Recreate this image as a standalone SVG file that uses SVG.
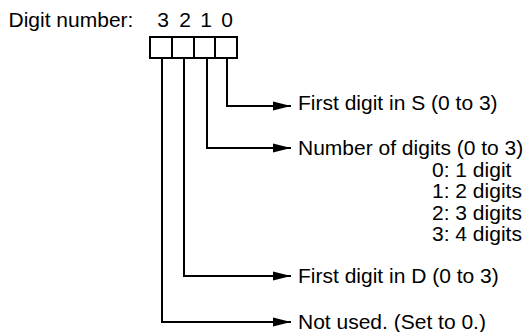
<svg xmlns="http://www.w3.org/2000/svg" width="524" height="332" viewBox="0 0 524 332">
<style>
text{font-family:"Liberation Sans",Arial,sans-serif;font-size:21px;fill:#000}
.ln{fill:none;stroke:#000;stroke-width:2}
</style>
<defs>
<marker id="ah" markerWidth="18" markerHeight="10" refX="18" refY="5" orient="auto" markerUnits="userSpaceOnUse">
<path d="M0,0.5 L18,5 L0,9.5 Z" fill="#000"/>
</marker>
</defs>
<rect width="524" height="332" fill="#fff"/>
<g id="header">
<text x="8.5" y="27">Digit number:</text>
<text x="163" y="27" text-anchor="middle">3</text>
<text x="185" y="27" text-anchor="middle">2</text>
<text x="206" y="27" text-anchor="middle">1</text>
<text x="227" y="27" text-anchor="middle">0</text>
</g>
<g id="register">
<rect class="ln" x="150" y="37" width="87" height="21"/>
<line class="ln" x1="172" y1="37" x2="172" y2="58"/>
<line class="ln" x1="194" y1="37" x2="194" y2="58"/>
<line class="ln" x1="215" y1="37" x2="215" y2="58"/>
</g>
<g id="connectors">
<polyline class="ln" points="227,58 227,106 291,106" marker-end="url(#ah)"/>
<polyline class="ln" points="207,58 207,148 291,148" marker-end="url(#ah)"/>
<polyline class="ln" points="184,58 184,276 291,276" marker-end="url(#ah)"/>
<polyline class="ln" points="162,58 162,322 291,322" marker-end="url(#ah)"/>
</g>
<g id="digit0">
<text x="298" y="110">First digit in S (0 to 3)</text>
</g>
<g id="digit1">
<text x="298" y="155">Number of digits (0 to 3)</text>
<text x="432" y="176.5">0: 1 digit</text>
<text x="432" y="198">1: 2 digits</text>
<text x="432" y="219.5">2: 3 digits</text>
<text x="432" y="241">3: 4 digits</text>
</g>
<g id="digit2">
<text x="298" y="283">First digit in D (0 to 3)</text>
</g>
<g id="digit3">
<text x="298" y="329">Not used. (Set to 0.)</text>
</g>
</svg>
